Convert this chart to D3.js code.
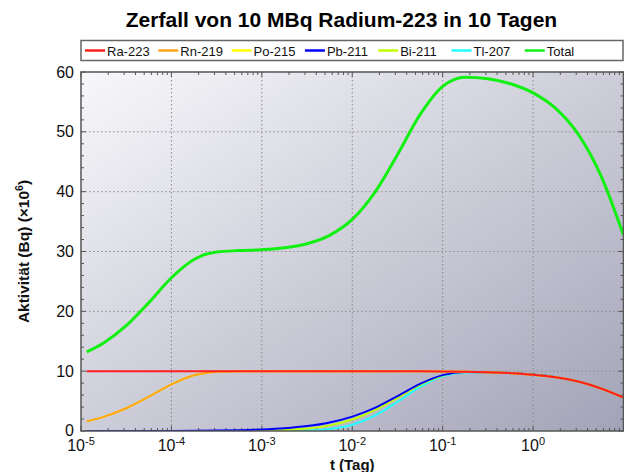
<!DOCTYPE html>
<html>
<head>
<meta charset="utf-8">
<script src="https://cdn.jsdelivr.net/npm/d3@7"></script>
<style>
  body { margin: 0; background: #fff; }
  svg text { font-family: "Liberation Sans", Arial, sans-serif; }
</style>
</head>
<body>
<div id="chart"></div>
<script>
// Zerfall Ra-223 chart

// time in days (first sample = 1 s)
const T_DAYS = [1.157e-5, 1.778e-5, 3.162e-5, 5.623e-5, 1e-4, 1.778e-4, 3.162e-4, 5.623e-4,
  1e-3, 1.778e-3, 3.162e-3, 5.623e-3, 0.01, 0.01778, 0.03162, 0.05623,
  0.1, 0.1778, 0.3162, 0.5623, 1, 1.778, 3.162, 5.623, 10];

// activity in Bq x 10^6
const RA_223 = [10, 10, 10, 10, 10, 10, 10, 10, 10, 10, 10, 10,
  9.99, 9.99, 9.98, 9.97, 9.94, 9.89, 9.81, 9.67, 9.41, 8.98, 8.26, 7.11, 5.6];
const RN_219 = [1.61, 2.36, 3.80, 5.73, 7.80, 9.32, 9.92, 10, 10, 10, 10, 10,
  9.99, 9.99, 9.98, 9.97, 9.94, 9.89, 9.81, 9.67, 9.41, 8.98, 8.26, 7.11, 5.6];
const PO_215 = [1.61, 2.36, 3.80, 5.73, 7.80, 9.32, 9.92, 10, 10, 10, 10, 10,
  9.99, 9.99, 9.98, 9.97, 9.94, 9.89, 9.81, 9.67, 9.41, 8.98, 8.26, 7.11, 5.6];
const PB_211 = [0, 0, 0, 0, 0.01, 0.03, 0.07, 0.14, 0.26, 0.46, 0.82, 1.43,
  2.41, 3.87, 5.82, 7.87, 9.34, 9.84, 9.83, 9.69, 9.43, 9.0, 8.27, 7.13, 5.6];
const BI_211 = [0, 0, 0, 0, 0, 0, 0.004, 0.015, 0.05, 0.15, 0.40, 0.94,
  1.93, 3.49, 5.55, 7.73, 9.29, 9.84, 9.83, 9.69, 9.43, 9.0, 8.27, 7.13, 5.6];
const TL_207 = [0, 0, 0, 0, 0, 0, 0, 0, 0.004, 0.02, 0.08, 0.33,
  1.04, 2.56, 4.87, 7.37, 9.15, 9.78, 9.80, 9.66, 9.41, 8.98, 8.26, 7.11, 5.6];
const TOTAL = [13.22, 14.72, 17.60, 21.46, 25.61, 28.67, 29.91, 30.15, 30.31, 30.63, 31.30, 32.70,
  35.36, 39.89, 46.18, 52.87, 57.60, 59.14, 58.89, 58.04, 56.51, 53.91, 49.57, 42.70, 32.74];

const SERIES = [
  { label: "Ra-223", values: RA_223, color: "#ff1f1f", width: 2 },
  { label: "Rn-219", values: RN_219, color: "#ffa31a", width: 2 },
  { label: "Po-215", values: PO_215, color: "#ffff00", width: 2 },
  { label: "Pb-211", values: PB_211, color: "#0000ff", width: 2 },
  { label: "Bi-211", values: BI_211, color: "#c0ff00", width: 2 },
  { label: "Tl-207", values: TL_207, color: "#22ffff", width: 2 },
  { label: "Total",  values: TOTAL,  color: "#11f011", width: 3 }
];

const X_DECADES = [-5, -4, -3, -2, -1, 0];
const Y_TICKS = [0, 10, 20, 30, 40, 50, 60];

const W = 624, H = 472;
const plot = { left: 81, top: 72, right: 623.5, bottom: 431 };

const svg = d3.select("#chart").append("svg")
  .attr("width", W)
  .attr("height", H);

const defs = svg.append("defs");
const grad = defs.append("linearGradient")
  .attr("id", "bg")
  .attr("x1", 0).attr("y1", 0).attr("x2", 1).attr("y2", 1);
grad.append("stop").attr("offset", "0%").attr("stop-color", "#f8f8fb");
grad.append("stop").attr("offset", "100%").attr("stop-color", "#a3a3b8");

defs.append("clipPath").attr("id", "clip")
  .append("rect")
  .attr("x", plot.left).attr("y", plot.top)
  .attr("width", plot.right - plot.left).attr("height", plot.bottom - plot.top);

const x = d3.scaleLog()
  .domain([1e-5, 10])
  .range([plot.left, plot.right]);

const y = d3.scaleLinear()
  .domain([0, 60])
  .range([plot.bottom, plot.top]);

// background
svg.append("rect")
  .attr("x", plot.left).attr("y", plot.top)
  .attr("width", plot.right - plot.left).attr("height", plot.bottom - plot.top)
  .attr("fill", "url(#bg)");

// grid
const grid = svg.append("g").attr("stroke", "#8a8a8a").attr("stroke-width", 1)
  .attr("stroke-dasharray", "1.5,2.5");
grid.selectAll("line.gx")
  .data(X_DECADES.slice(1).map(d => Math.pow(10, d)))
  .enter().append("line")
  .attr("x1", d => x(d)).attr("x2", d => x(d))
  .attr("y1", plot.top).attr("y2", plot.bottom);
grid.selectAll("line.gy")
  .data(Y_TICKS.slice(1, -1))
  .enter().append("line")
  .attr("x1", plot.left).attr("x2", plot.right)
  .attr("y1", d => y(d)).attr("y2", d => y(d));

// ticks (inward, all four sides)
const ticks = svg.append("g").attr("stroke", "#555").attr("stroke-width", 1);
const xt = x.ticks().map(d => ({ v: d, major: Math.abs(Math.log10(d) - Math.round(Math.log10(d))) < 1e-6 }));
xt.forEach(t => {
  const len = t.major ? 5 : 3;
  ticks.append("line").attr("x1", x(t.v)).attr("x2", x(t.v)).attr("y1", plot.bottom).attr("y2", plot.bottom - len);
  ticks.append("line").attr("x1", x(t.v)).attr("x2", x(t.v)).attr("y1", plot.top).attr("y2", plot.top + len);
});
d3.range(0, 61, 2).forEach(v => {
  const len = v % 10 === 0 ? 5 : 3;
  ticks.append("line").attr("x1", plot.left).attr("x2", plot.left + len).attr("y1", y(v)).attr("y2", y(v));
  ticks.append("line").attr("x1", plot.right).attr("x2", plot.right - len).attr("y1", y(v)).attr("y2", y(v));
});

// lines
const line = d3.line()
  .x((d, i) => x(T_DAYS[i]))
  .y(d => y(d))
  .curve(d3.curveMonotoneX);

svg.append("g").attr("clip-path", "url(#clip)")
  .selectAll("path")
  .data(SERIES.slice().reverse())
  .enter().append("path")
  .attr("d", d => line(d.values))
  .attr("fill", "none")
  .attr("stroke", d => d.color)
  .attr("stroke-width", d => d.width)
  .attr("stroke-linejoin", "round");

// frame
svg.append("rect")
  .attr("x", plot.left).attr("y", plot.top)
  .attr("width", plot.right - plot.left).attr("height", plot.bottom - plot.top)
  .attr("fill", "none")
  .attr("stroke", "#555")
  .attr("stroke-width", 1.5);

// y tick labels
svg.selectAll("text.ylab")
  .data(Y_TICKS)
  .enter().append("text")
  .attr("x", plot.left - 7)
  .attr("y", d => y(d) + (d === 0 ? 4.5 : 5.5))
  .attr("text-anchor", "end")
  .attr("font-size", 16)
  .attr("fill", "#111")
  .text(d => d);

// x tick labels 10^n
const xl = svg.selectAll("text.xlab")
  .data(X_DECADES)
  .enter().append("text")
  .attr("x", d => x(Math.pow(10, d)))
  .attr("y", 451)
  .attr("text-anchor", "middle")
  .attr("font-size", 16)
  .attr("fill", "#111");
xl.append("tspan").text("10");
xl.append("tspan").attr("dy", -6.5).attr("font-size", 11).text(d => d);

// title
svg.append("text")
  .attr("x", 341.5)
  .attr("y", 27)
  .attr("text-anchor", "middle")
  .attr("font-size", 21)
  .attr("font-weight", "bold")
  .attr("fill", "#000")
  .text("Zerfall von 10 MBq Radium-223 in 10 Tagen");

// axis labels
svg.append("text")
  .attr("x", (plot.left + plot.right) / 2)
  .attr("y", 470)
  .attr("text-anchor", "middle")
  .attr("font-size", 15)
  .attr("font-weight", "bold")
  .attr("fill", "#111")
  .text("t (Tag)");

const yt = svg.append("text")
  .attr("transform", `translate(29,${(plot.top + plot.bottom) / 2}) rotate(-90)`)
  .attr("text-anchor", "middle")
  .attr("font-size", 15.5)
  .attr("font-weight", "bold")
  .attr("fill", "#111");
yt.append("tspan").text("Aktivität (Bq) (×10");
yt.append("tspan").attr("dy", -6).attr("font-size", 10.5).text("6");
yt.append("tspan").attr("dy", 6).text(")");

// legend
const legend = svg.append("g");
legend.append("rect")
  .attr("x", 81).attr("y", 40.5)
  .attr("width", 542).attr("height", 20)
  .attr("fill", "#fff")
  .attr("stroke", "#666")
  .attr("stroke-width", 1.5);

const items = legend.selectAll("g.item")
  .data(SERIES)
  .enter().append("g")
  .attr("transform", (d, i) => `translate(${85 + i * 73.3},50.5)`);
items.append("line")
  .attr("x1", 0).attr("x2", 20)
  .attr("stroke", d => d.color)
  .attr("stroke-width", 2.5);
items.append("text")
  .attr("x", 22)
  .attr("y", 5)
  .attr("font-size", 13)
  .attr("fill", "#111")
  .text(d => d.label);
</script>
</body>
</html>
